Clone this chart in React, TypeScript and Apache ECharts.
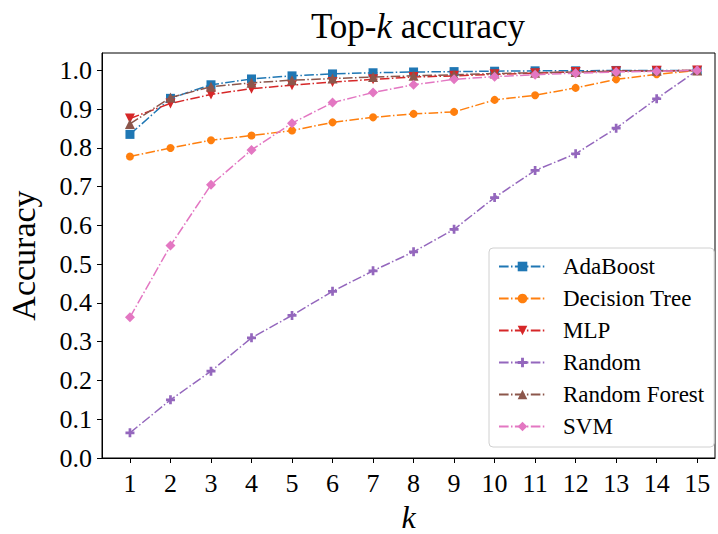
import React, { useEffect, useRef } from "react";
import * as echarts from "echarts";

const kValues = [1, 2, 3, 4, 5, 6, 7, 8, 9, 10, 11, 12, 13, 14, 15];
const yTicks = [0, 0.1, 0.2, 0.3, 0.4, 0.5, 0.6, 0.7, 0.8, 0.9, 1.0];

const seriesNames = ["AdaBoost", "Decision Tree", "MLP", "Random", "Random Forest", "SVM"];

const adaBoost = [0.835, 0.928, 0.963, 0.978, 0.986, 0.991, 0.994, 0.996, 0.997, 0.998, 0.999, 0.999, 1.0, 1.0, 1.0];
const decisionTree = [0.778, 0.8, 0.82, 0.832, 0.845, 0.866, 0.879, 0.888, 0.893, 0.924, 0.936, 0.955, 0.977, 0.99, 1.0];
const mlp = [0.876, 0.915, 0.938, 0.953, 0.962, 0.97, 0.977, 0.983, 0.986, 0.99, 0.993, 0.996, 0.998, 0.999, 1.0];
const randomBaseline = [0.065, 0.15, 0.224, 0.31, 0.368, 0.43, 0.483, 0.532, 0.59, 0.672, 0.742, 0.785, 0.851, 0.927, 1.0];
const randomForest = [0.862, 0.93, 0.958, 0.968, 0.975, 0.979, 0.983, 0.986, 0.989, 0.992, 0.994, 0.996, 0.998, 0.999, 1.0];
const svm = [0.363, 0.548, 0.705, 0.795, 0.864, 0.917, 0.943, 0.963, 0.977, 0.984, 0.989, 0.993, 0.996, 0.998, 1.0];

const allValues = [adaBoost, decisionTree, mlp, randomBaseline, randomForest, svm];
const colors = ["#1f77b4", "#ff7f0e", "#d62728", "#9467bd", "#8c564b", "#e377c2"];
const PLUS = "path://M3.5,0 H6.5 V3.5 H10 V6.5 H6.5 V10 H3.5 V6.5 H0 V3.5 H3.5 Z";
const symbols = ["rect", "circle", "triangle", PLUS, "triangle", "diamond"];
const symbolRotates = [0, 0, 180, 0, 0, 0];
const symbolSizes = [9, 8, 10, 9, 10, 10];

const FONT = "'Liberation Serif', 'DejaVu Serif', serif";

export default function App() {
  const ref = useRef<HTMLDivElement>(null);
  useEffect(() => {
    if (!ref.current) return;
    const chart = echarts.init(ref.current, null, { renderer: "svg" });
    const series = seriesNames.map((name, i) => ({
      name,
      type: "line",
      data: kValues.map((k, j) => [k, allValues[i][j]]),
      symbol: symbols[i],
      symbolRotate: symbolRotates[i],
      symbolSize: symbolSizes[i],
      showAllSymbol: true,
      lineStyle: { color: colors[i], width: 1.5, type: [9.6, 2.4, 1.5, 2.4] },
      itemStyle: { color: colors[i], borderWidth: 0 },
      z: 2 + i,
    }));
    chart.setOption({
      animation: false,
      backgroundColor: "#fff",
      textStyle: { fontFamily: FONT },
      title: {
        text: "Top-{i|k} accuracy",
        left: 413,
        top: 4,
        textAlign: "center",
        textStyle: {
          fontFamily: FONT,
          fontSize: 35,
          fontWeight: "normal",
          color: "#000",
          rich: { i: { fontFamily: FONT, fontSize: 35, fontStyle: "italic", color: "#000" } },
        },
      },
      grid: {
        left: 102,
        right: 3,
        top: 53,
        bottom: 76,
        show: true,
        borderColor: "#000",
        borderWidth: 1,
        containLabel: false,
        outerBoundsMode: "none",
      },
      legend: {
        orient: "vertical",
        left: 489,
        top: 248,
        padding: [7, 10, 9, 9],
        itemWidth: 47,
        itemHeight: 12,
        itemGap: 9,
        borderColor: "#d0d0d0",
        borderWidth: 1,
        borderRadius: 4,
        backgroundColor: "rgba(255,255,255,0.85)",
        data: seriesNames,
        textStyle: {
          fontFamily: FONT,
          fontSize: 23,
          lineHeight: 23,
          color: "#000",
          padding: [0, 0, 0, 12],
        },
      },
      xAxis: {
        type: "value",
        min: 0.31,
        max: 15.44,
        name: "k",
        nameLocation: "middle",
        nameGap: 38,
        nameTextStyle: { fontFamily: FONT, fontSize: 32, lineHeight: 32, fontStyle: "italic", color: "#000" },
        axisLine: { show: true, onZero: false, lineStyle: { color: "#000", width: 1 } },
        axisTick: { show: true, length: 5, lineStyle: { color: "#000" }, customValues: kValues },
        axisLabel: {
          fontFamily: FONT,
          fontSize: 26,
          color: "#000",
          margin: 12,
          customValues: kValues,
        },
        splitLine: { show: false },
      },
      yAxis: {
        type: "value",
        min: 0,
        max: 1.045,
        name: "Accuracy",
        nameLocation: "middle",
        nameGap: 62,
        nameTextStyle: { fontFamily: FONT, fontSize: 34, color: "#000" },
        axisLine: { show: true, lineStyle: { color: "#000", width: 1 } },
        axisTick: { show: true, length: 5, lineStyle: { color: "#000" }, customValues: yTicks },
        axisLabel: {
          fontFamily: FONT,
          fontSize: 26,
          color: "#000",
          margin: 10,
          customValues: yTicks,
          formatter: (v: number) => v.toFixed(1),
        },
        splitLine: { show: false },
      },
      series,
    });
    return () => chart.dispose();
  }, []);
  return <div ref={ref} style={{ width: 718, height: 534, position: "absolute", left: 0, top: 0 }} />;
}
